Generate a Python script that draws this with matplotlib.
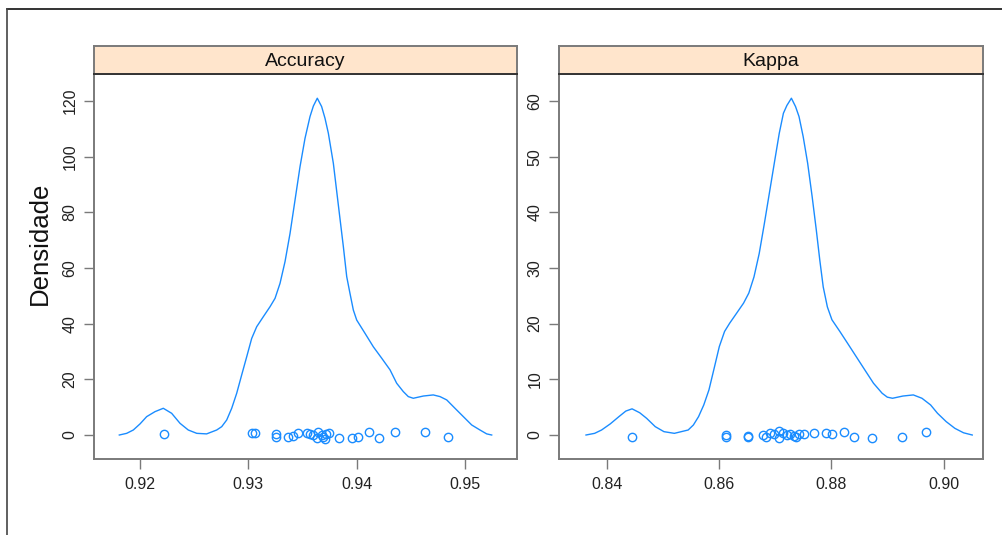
import matplotlib
matplotlib.use("Agg")
import matplotlib.pyplot as plt
from matplotlib.lines import Line2D

plt.rcParams['font.family'] = ['Liberation Sans', 'DejaVu Sans']

# ---------------- data ----------------
panels = ["Accuracy", "Kappa"]

acc_curve_x = [0.91814, 0.91882, 0.91943, 0.92005, 0.92066, 0.92143, 0.92219, 0.92296,
               0.92373, 0.92449, 0.92527, 0.92618, 0.92711, 0.92757, 0.92803, 0.92849,
               0.92895, 0.92941, 0.92987, 0.93033, 0.93079, 0.93140, 0.93202, 0.93248,
               0.93294, 0.93340, 0.93386, 0.93432, 0.93478, 0.93524, 0.93570, 0.93601,
               0.93637, 0.93677, 0.93708, 0.93739, 0.93785, 0.93831, 0.93877, 0.93908,
               0.93938, 0.93969, 0.94000, 0.94077, 0.94153, 0.94230, 0.94307, 0.94368,
               0.94429, 0.94475, 0.94521, 0.94613, 0.94705, 0.94767, 0.94829, 0.94905,
               0.94982, 0.95059, 0.95135, 0.95197, 0.95243]
acc_curve_y = [0.0, 0.6, 1.8, 4.0, 6.6, 8.4, 9.6, 7.8,
               4.2, 1.8, 0.6, 0.4, 1.8, 3.0, 5.4, 9.6,
               15.0, 21.6, 28.1, 34.7, 38.9, 42.5, 46.1, 49.1,
               54.5, 62.3, 72.4, 84.4, 96.4, 106.6, 114.4, 118.2,
               121.0, 118.0, 113.8, 108.4, 97.6, 82.6, 67.7, 56.9,
               50.9, 44.9, 41.3, 36.5, 31.7, 27.6, 23.4, 18.6,
               15.6, 13.8, 13.2, 14.0, 14.4, 13.8, 12.6, 9.6,
               6.6, 3.6, 1.8, 0.4, 0.0]

acc_points = [0.92226, 0.93039, 0.93064, 0.93257, 0.93257, 0.93370, 0.93416, 0.93462,
              0.93539, 0.93570, 0.93600, 0.93646, 0.93637, 0.93677, 0.93690, 0.93708,
              0.93720, 0.93748, 0.93834, 0.93954, 0.94015, 0.94110, 0.94205, 0.94353,
              0.94629, 0.94838]
acc_jitter = [0.2, 0.8, 0.8, 0.4, -0.8, -0.8, -0.4, 0.6,
              0.8, 0.2, 0.0, 1.2, -1.2, 0.0, -0.8, -1.5,
              0.4, 0.6, -1.0, -1.0, -0.6, 1.2, -1.2, 1.2,
              1.2, -0.6]

kap_curve_x = [0.83630, 0.83784, 0.83907, 0.84062, 0.84216, 0.84339, 0.84450, 0.84586,
               0.84709, 0.84863, 0.85018, 0.85203, 0.85449, 0.85542, 0.85634, 0.85727,
               0.85819, 0.85912, 0.86004, 0.86097, 0.86189, 0.86313, 0.86436, 0.86529,
               0.86621, 0.86714, 0.86806, 0.86899, 0.86992, 0.87071, 0.87145, 0.87207,
               0.87287, 0.87361, 0.87423, 0.87497, 0.87577, 0.87657, 0.87731, 0.87793,
               0.87854, 0.87928, 0.88009, 0.88150, 0.88286, 0.88440, 0.88594, 0.88749,
               0.88903, 0.88995, 0.89088, 0.89273, 0.89458, 0.89612, 0.89766, 0.89889,
               0.90044, 0.90198, 0.90352, 0.90507]
kap_curve_y = [0.0, 0.3, 0.9, 2.0, 3.3, 4.3, 4.7, 4.0,
               3.0, 1.5, 0.6, 0.3, 0.9, 1.8, 3.3, 5.4,
               8.1, 12.0, 15.9, 18.6, 20.1, 21.9, 23.7, 25.5,
               28.4, 32.6, 38.0, 43.7, 49.4, 54.2, 57.8, 59.2,
               60.5, 59.0, 57.2, 53.6, 48.8, 42.8, 36.8, 31.4,
               26.6, 23.0, 20.7, 18.6, 16.5, 14.1, 11.7, 9.3,
               7.5, 6.8, 6.6, 7.0, 7.2, 6.6, 5.4, 3.9,
               2.4, 1.2, 0.4, 0.0]

kap_points = [0.84450, 0.86115, 0.86128, 0.86511, 0.86511, 0.86775, 0.86836, 0.86899,
              0.86979, 0.87065, 0.87065, 0.87145, 0.87207, 0.87269, 0.87330, 0.87373,
              0.87423, 0.87515, 0.87682, 0.87904, 0.88009, 0.88224, 0.88409, 0.88718,
              0.89260, 0.89686]
kap_jitter = [-0.4, 0.0, -0.3, -0.1, -0.3, 0.0, -0.3, 0.3,
              0.1, 0.7, -0.5, 0.3, 0.0, 0.1, -0.2, -0.4,
              0.2, 0.2, 0.3, 0.3, 0.1, 0.6, -0.3, -0.6,
              -0.3, 0.5]

acc_xticks = [0.92, 0.93, 0.94, 0.95]
acc_yticks = [0, 20, 40, 60, 80, 100, 120]
kap_xticks = [0.84, 0.86, 0.88, 0.90]
kap_yticks = [0, 10, 20, 30, 40, 50, 60]

ylabel = "Densidade"

# ---------------- style ----------------
W, H = 1003, 535
LINE = "#1a8cff"
FRAME = "#7a7a7a"
STRIP = "#ffe5cc"

fig = plt.figure(figsize=(W / 100, H / 100), dpi=100)

specs = [
    dict(name=panels[0], left=94, right=517, cx=acc_curve_x, cy=acc_curve_y,
         px=acc_points, pj=acc_jitter, xt=acc_xticks, yt=acc_yticks,
         xlim=(0.91581, 0.95476), ylim=(-8.62, 129.7), fmt="{:.2f}"),
    dict(name=panels[1], left=559, right=983, cx=kap_curve_x, cy=kap_curve_y,
         px=kap_points, pj=kap_jitter, xt=kap_xticks, yt=kap_yticks,
         xlim=(0.83149, 0.90699), ylim=(-4.31, 64.85), fmt="{:.2f}"),
]

top_panel, bot_panel, strip_top = 74, 459, 46

for s in specs:
    ax = fig.add_axes([s["left"] / W, 1 - bot_panel / H,
                       (s["right"] - s["left"]) / W, (bot_panel - top_panel) / H])
    ax.plot(s["cx"], s["cy"], color=LINE, lw=1.0, solid_joinstyle="round")
    ax.plot(s["px"], s["pj"], linestyle="none", marker="o", markersize=6.0,
            markerfacecolor="none", markeredgecolor=LINE, markeredgewidth=1.0)
    ax.set_xlim(*s["xlim"])
    ax.set_ylim(*s["ylim"])
    ax.set_xticks(s["xt"])
    ax.set_xticklabels([s["fmt"].format(v) for v in s["xt"]])
    ax.set_yticks(s["yt"])
    ax.set_yticklabels([str(v) for v in s["yt"]], rotation=90, va="center")
    ax.tick_params(axis="both", direction="out", length=7.5, width=1.0,
                   color=FRAME, labelsize=11.5, labelcolor="#222222", pad=4.5)
    ax.tick_params(axis="x", pad=5.5)
    for sp in ax.spines.values():
        sp.set_color(FRAME)
        sp.set_linewidth(1.4)

    # strip
    sax = fig.add_axes([s["left"] / W, 1 - top_panel / H,
                        (s["right"] - s["left"]) / W, (top_panel - strip_top) / H])
    sax.set_facecolor(STRIP)
    sax.set_xticks([])
    sax.set_yticks([])
    for sp in sax.spines.values():
        sp.set_color(FRAME)
        sp.set_linewidth(1.4)
    sax.spines["bottom"].set_color("#333333")
    sax.text(0.5, 0.45, s["name"], ha="center", va="center", fontsize=14,
             color="#111111", transform=sax.transAxes)

fig.text(40 / W, 1 - 243 / H, ylabel, rotation=90, ha="center", va="center",
         fontsize=18.5, color="#111111")

# outer frame lines of the screenshot
fig.add_artist(Line2D([7 / W, 1.0], [1 - 9.3 / H, 1 - 9.3 / H],
                      transform=fig.transFigure, color="#111111", lw=1.2))
fig.add_artist(Line2D([7.3 / W, 7.3 / W], [0.0, 1 - 9.3 / H],
                      transform=fig.transFigure, color="#444444", lw=1.2))

fig.savefig("out.png", dpi=100)
